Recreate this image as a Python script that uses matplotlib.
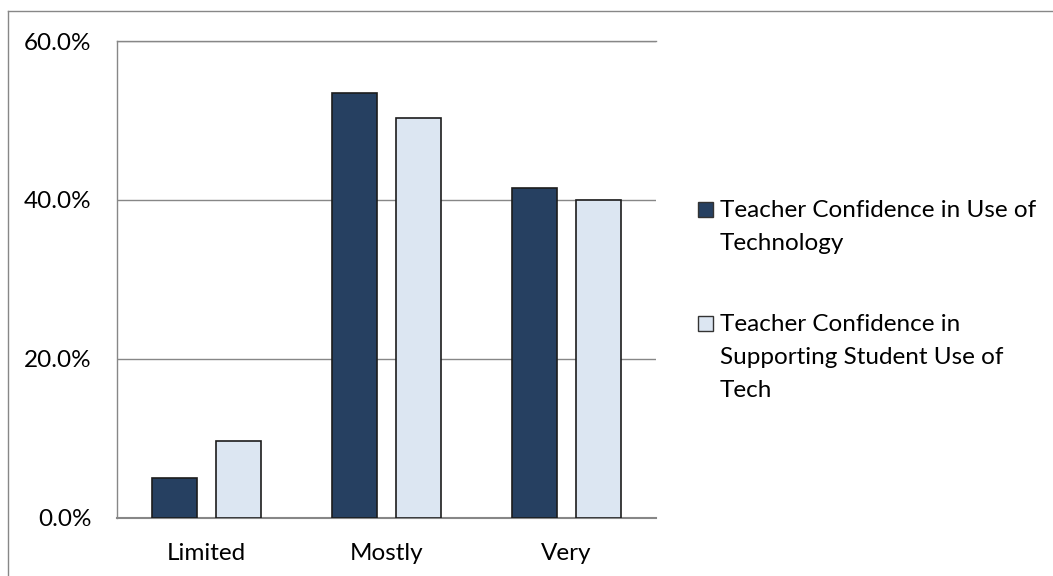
import textwrap
from matplotlib import pyplot as plt
from matplotlib.patches import Rectangle
from matplotlib.lines import Line2D
from matplotlib.ticker import PercentFormatter
import numpy as np

categories = ['Limited', 'Mostly', 'Very']
use_of_tech = [5.0, 53.4, 41.5]
supporting_students = [9.6, 50.3, 40.0]
series_names = ['Teacher Confidence in Use of Technology',
                'Teacher Confidence in Supporting Student Use of Tech']
y_ticks = [0, 20, 40, 60]


def main():
    plt.rcParams['font.family'] = ['Lato', 'DejaVu Sans']
    dark = '#264061'
    light = '#dce6f2'
    edge = '#1c1c1c'
    grid = '#878787'

    fig = plt.figure(figsize=(10.53, 5.76), dpi=100)
    ax = fig.add_axes([0.1108, 0.1012, 0.623 - 0.1108, 0.9288 - 0.1012])

    x = np.arange(len(categories))
    w = 0.25
    off = 0.178
    ax.bar(x - off, use_of_tech, w, color=dark, edgecolor=edge, linewidth=1.2, zorder=3)
    ax.bar(x + off, supporting_students, w, color=light, edgecolor=edge, linewidth=1.2, zorder=3)

    ax.set_xlim(-0.5, len(categories) - 0.5)
    ax.set_ylim(0, 60)
    ax.set_yticks(y_ticks)
    ax.yaxis.set_major_formatter(PercentFormatter(decimals=1))
    ax.set_xticks(x)
    ax.set_xticklabels(categories)
    ax.grid(axis='y', color=grid, linewidth=1.0, zorder=0)
    ax.tick_params(length=0, labelsize=17.5, colors='black')
    ax.tick_params(axis='y', pad=18)
    ax.tick_params(axis='x', pad=18)
    for s in ['top', 'left', 'bottom']:
        ax.spines[s].set_color(grid)
        ax.spines[s].set_linewidth(1.0)
    ax.spines['bottom'].set_linewidth(1.5)
    ax.spines['right'].set_visible(False)

    # legend drawn by hand so the marker sits on the first line
    W, H = 1053, 576
    colors = [dark, light]
    first_baselines = [216.7, 330.0]
    line_h = 33.3
    for name, c, yb in zip(series_names, colors, first_baselines):
        label = textwrap.fill(name, 28)
        n = label.count('\n')
        fig.patches.append(Rectangle((698 / W, 1 - (yb + 0.5) / H), 15 / W, 15 / H,
                                     transform=fig.transFigure, facecolor=c,
                                     edgecolor='#333333', linewidth=1.0))
        fig.text(720 / W, 1 - (yb + n * line_h) / H, label, fontsize=17.5,
                 va='baseline', ha='left', linespacing=1.68)

    # chart frame (only top and left edges fall inside the image)
    fig.add_artist(Line2D([8 / W, 1], [1 - 11 / H, 1 - 11 / H], color=grid, linewidth=1.0))
    fig.add_artist(Line2D([8 / W, 8 / W], [0, 1 - 11 / H], color=grid, linewidth=1.0))

    fig.savefig('out.png', dpi=100)


if __name__ == '__main__':
    main()
